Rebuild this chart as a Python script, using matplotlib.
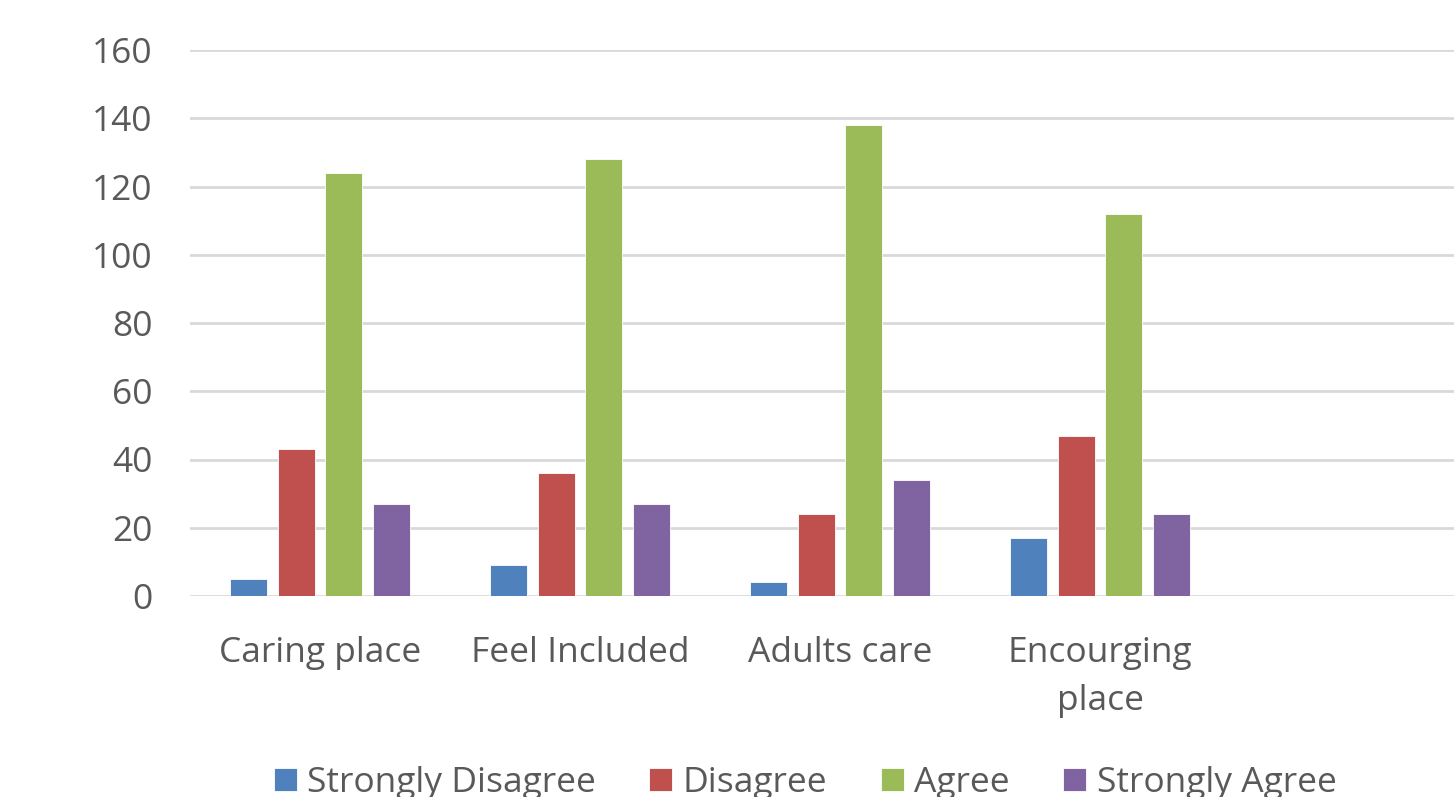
import numpy as np
import matplotlib
matplotlib.use("Agg")
import matplotlib.pyplot as plt

# ── data ──────────────────────────────────────────────────────────────────────
categories = ["Caring place", "Feel Included", "Adults care", "Encourging\nplace", ""]
series_names = ["Strongly Disagree", "Disagree", "Agree", "Strongly Agree"]
strongly_disagree = [5, 9, 4, 17]
disagree = [43, 36, 24, 47]
agree = [124, 128, 138, 112]
strongly_agree = [27, 27, 34, 24]
y_ticks = [0, 20, 40, 60, 80, 100, 120, 140, 160]

colors = ["#4F81BD", "#C0504D", "#9BBB59", "#8064A2"]
text_color = "#595959"
grid_color = "#D9D9D9"

plt.rcParams["font.family"] = ["Open Sans", "DejaVu Sans"]

fig = plt.figure(figsize=(14.54, 7.97), dpi=100)
ax = fig.add_axes([190 / 1454, 1 - 596 / 797, 1 - 190 / 1454, (596 - 50) / 797])

series = [strongly_disagree, disagree, agree, strongly_agree]
n_cat = len(strongly_disagree)
x = np.arange(n_cat)
bar_w = 0.142
step = 0.183
for i, (vals, name, c) in enumerate(zip(series, series_names, colors)):
    offs = (i - 1.5) * step
    ax.bar(x + offs, vals, width=bar_w, color=c, label=name,
           edgecolor="white", linewidth=0.6, zorder=3)

ax.set_ylim(0, 160)
ax.set_xlim(-0.5, -0.5 + (1454 - 190) / 260)
ax.set_yticks(y_ticks)
ax.set_xticks(np.arange(len(categories)))
ax.set_xticklabels(categories, linespacing=1.55)
ax.grid(axis="y", color=grid_color, linewidth=2, zorder=0)
ax.set_axisbelow(True)
for s in ["top", "right", "left", "bottom"]:
    ax.spines[s].set_visible(False)
ax.tick_params(axis="both", length=0, colors=text_color, labelsize=25.5)
ax.tick_params(axis="y", pad=27)
ax.tick_params(axis="x", pad=28.5)

fig.legend(loc="center", bbox_to_anchor=(805 / 1454, 1 - 783 / 797), ncol=4,
           frameon=False, fontsize=25.5, labelcolor=text_color,
           handlelength=0.65, handleheight=0.65, handletextpad=0.3,
           columnspacing=1.5)

fig.savefig("out.png", dpi=100)
